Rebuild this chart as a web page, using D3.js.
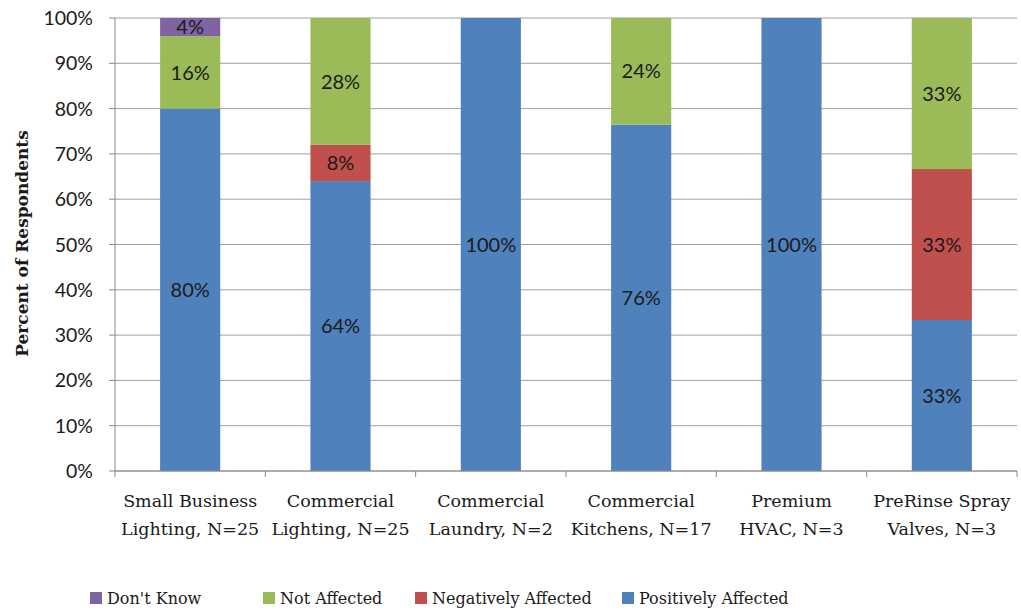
<!DOCTYPE html>
<html>
<head>
<meta charset="utf-8">
<script src="https://cdn.jsdelivr.net/npm/d3@7"></script>
<style>
  body { margin: 0; background: #fff; }
  svg { display: block; }
</style>
</head>
<body>
<svg id="chart" width="1021" height="614"></svg>
<script>
// categories (two-line labels)
const categories = [
  ["Small Business", "Lighting, N=25"],
  ["Commercial", "Lighting, N=25"],
  ["Commercial", "Laundry, N=2"],
  ["Commercial", "Kitchens, N=17"],
  ["Premium", "HVAC, N=3"],
  ["PreRinse Spray", "Valves, N=3"]
];
const seriesNames = ["Positively Affected", "Negatively Affected", "Not Affected", "Don't Know"];
const positively = [80, 64, 100, 76.47, 100, 33.33];
const negatively = [0, 8, 0, 0, 0, 33.33];
const notAffected = [16, 28, 0, 23.53, 0, 33.33];
const dontKnow = [4, 0, 0, 0, 0, 0];
const yTicks = [0, 10, 20, 30, 40, 50, 60, 70, 80, 90, 100];
const colors = ["#4F81BD", "#C0504D", "#9BBB59", "#8064A2"];
const legendOrder = [3, 2, 1, 0];

const svg = d3.select("#chart");
const margin = { top: 18, left: 115, right: 4, bottom: 143 };
const width = 1021 - margin.left - margin.right;
const height = 614 - margin.top - margin.bottom;

const g = svg.append("g").attr("transform", `translate(${margin.left},${margin.top})`);

const x = d3.scaleBand().domain(d3.range(categories.length)).range([0, width]).paddingInner(0.6).paddingOuter(0.3);
const y = d3.scaleLinear().domain([0, 100]).range([height, 0]);

// gridlines
g.selectAll(".grid").data(yTicks).enter().append("line")
  .attr("x1", 0).attr("x2", width)
  .attr("y1", d => y(d)).attr("y2", d => y(d))
  .attr("stroke", "#a0a0a0").attr("stroke-width", 1);

// stacked data
const rows = categories.map((c, i) => ({ i, v: [positively[i], negatively[i], notAffected[i], dontKnow[i]] }));
const stack = d3.stack().keys([0, 1, 2, 3]).value((d, k) => d.v[k]);
const layers = stack(rows);

const lg = g.selectAll(".layer").data(layers).enter().append("g")
  .attr("fill", (d, k) => colors[k]);

lg.selectAll("rect").data(d => d).enter().append("rect")
  .attr("x", d => x(d.data.i))
  .attr("width", x.bandwidth())
  .attr("y", d => y(d[1]))
  .attr("height", d => y(d[0]) - y(d[1]));

// value labels
lg.selectAll("text").data(d => d.filter(s => s[1] - s[0] > 0)).enter().append("text")
  .attr("x", d => x(d.data.i) + x.bandwidth() / 2)
  .attr("y", d => y((d[0] + d[1]) / 2))
  .attr("dy", "0.36em")
  .attr("text-anchor", "middle")
  .attr("fill", "#1a1a1a")
  .style("font-family", "Lato, 'Open Sans', sans-serif")
  .style("font-size", "20px")
  .text(d => Math.round(d[1] - d[0]) + "%");

// y axis
const ya = g.append("g");
ya.append("line").attr("x1", 0).attr("x2", 0).attr("y1", 0).attr("y2", height).attr("stroke", "#888");
ya.selectAll(".tk").data(yTicks).enter().append("line")
  .attr("x1", -6).attr("x2", 0).attr("y1", d => y(d)).attr("y2", d => y(d)).attr("stroke", "#888");
ya.selectAll("text").data(yTicks).enter().append("text")
  .attr("x", -22).attr("y", d => y(d)).attr("dy", "0.36em")
  .attr("text-anchor", "end")
  .style("font-family", "Lato, 'Open Sans', sans-serif")
  .style("font-size", "19.5px")
  .attr("fill", "#1a1a1a")
  .text(d => d + "%");

// x axis
const xa = g.append("g").attr("transform", `translate(0,${height})`);
xa.append("line").attr("x1", 0).attr("x2", width).attr("stroke", "#888");
xa.selectAll(".tk").data(d3.range(categories.length + 1)).enter().append("line")
  .attr("x1", d => d * x.step()).attr("x2", d => d * x.step())
  .attr("y1", 0).attr("y2", 6).attr("stroke", "#888");
const xl = xa.selectAll(".lbl").data(categories).enter().append("text")
  .attr("text-anchor", "middle")
  .attr("x", (d, i) => x(i) + x.bandwidth() / 2)
  .style("font-family", "'DejaVu Serif', serif")
  .style("font-size", "17.5px")
  .attr("fill", "#1a1a1a");
xl.append("tspan").attr("x", (d, i) => x(i) + x.bandwidth() / 2).attr("y", 36).text(d => d[0]);
xl.append("tspan").attr("x", (d, i) => x(i) + x.bandwidth() / 2).attr("y", 64).text(d => d[1]);

// y axis title
svg.append("text")
  .attr("transform", `translate(28,${margin.top + height / 2 - 1}) rotate(-90)`)
  .attr("text-anchor", "middle")
  .style("font-family", "'DejaVu Serif', serif")
  .style("font-weight", "bold")
  .style("font-size", "17px")
  .attr("fill", "#1a1a1a")
  .text("Percent of Respondents");

// legend
const legendX = [90, 263, 415, 622];
const leg = svg.selectAll(".legend").data(legendOrder).enter().append("g")
  .attr("transform", (d, j) => `translate(${legendX[j]},598)`);
leg.append("rect").attr("x", 0).attr("y", -6).attr("width", 12).attr("height", 12).attr("fill", d => colors[d]);
leg.append("text").attr("x", 17).attr("dy", "0.36em")
  .style("font-family", "'DejaVu Serif', serif")
  .style("font-size", "16px")
  .attr("fill", "#1a1a1a")
  .text(d => seriesNames[d]);
</script>
</body>
</html>
